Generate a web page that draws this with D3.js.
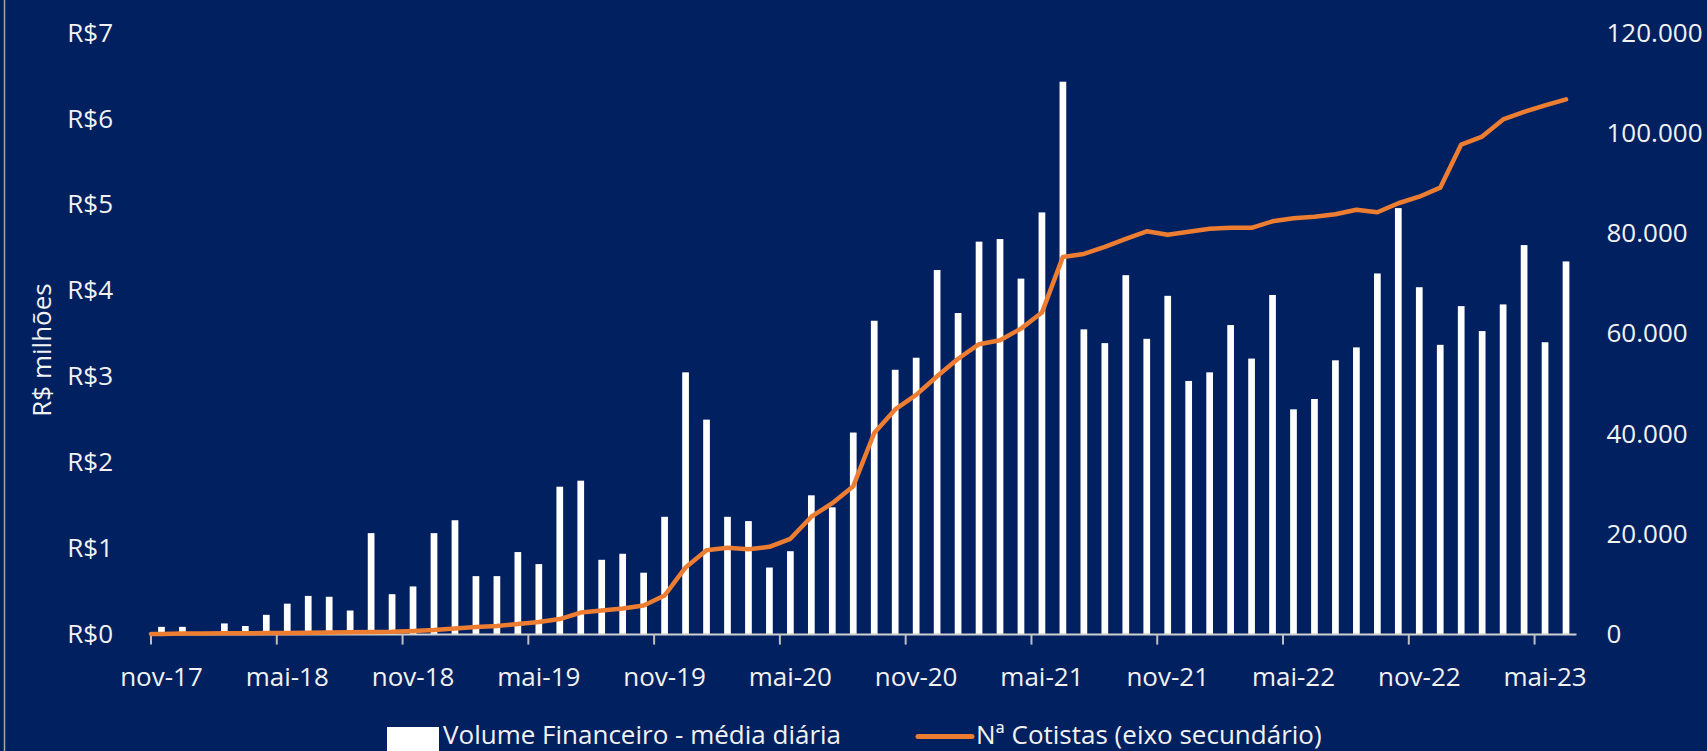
<!DOCTYPE html>
<html>
<head>
<meta charset="utf-8">
<script src="https://cdn.jsdelivr.net/npm/d3@7"></script>
<style>
  html, body { margin: 0; padding: 0; background: #002060; overflow: hidden; }
  text { font-family: "Open Sans", sans-serif; fill: #f2f2f2; }
</style>
</head>
<body>
<script>
// months shown on the category axis
var months = [
  "nov-17","dez-17","jan-18","fev-18","mar-18","abr-18","mai-18","jun-18","jul-18","ago-18","set-18","out-18",
  "nov-18","dez-18","jan-19","fev-19","mar-19","abr-19","mai-19","jun-19","jul-19","ago-19","set-19","out-19",
  "nov-19","dez-19","jan-20","fev-20","mar-20","abr-20","mai-20","jun-20","jul-20","ago-20","set-20","out-20",
  "nov-20","dez-20","jan-21","fev-21","mar-21","abr-21","mai-21","jun-21","jul-21","ago-21","set-21","out-21",
  "nov-21","dez-21","jan-22","fev-22","mar-22","abr-22","mai-22","jun-22","jul-22","ago-22","set-22","out-22",
  "nov-22","dez-22","jan-23","fev-23","mar-23","abr-23","mai-23","jun-23"
];

var tickLabels = ["nov-17","mai-18","nov-18","mai-19","nov-19","mai-20","nov-20","mai-21","nov-21","mai-22","nov-22","mai-23"];

// volume financeiro, media diaria (R$ milhoes)
var volume = [
  0.09,0.09,0.03,0.13,0.10,0.23,0.36,0.45,0.44,0.28,
  1.18,0.47,0.56,1.18,1.33,0.68,0.68,0.96,0.82,1.72,
  1.79,0.87,0.94,0.72,1.37,3.05,2.50,1.37,1.32,0.78,
  0.97,1.62,1.48,2.35,3.65,3.08,3.22,4.24,3.74,4.57,
  4.60,4.14,4.91,6.43,3.55,3.39,4.18,3.44,3.94,2.95,
  3.05,3.60,3.21,3.95,2.62,2.74,3.19,3.34,4.20,4.96,
  4.04,3.37,3.82,3.53,3.84,4.53,3.40,4.34
];

// numero de cotistas (eixo secundario)
var cotistas = [
  100,200,200,250,250,300,300,350,400,450,
  500,550,700,900,1200,1500,1700,2100,2500,3100,
  4400,4800,5200,5800,7800,13400,16800,17300,17000,17500,
  19100,23500,26200,29600,40200,44900,47800,51500,55000,57900,
  58700,61000,64200,75300,75900,77300,78900,80400,79700,80300,
  80900,81100,81100,82400,83000,83300,83800,84700,84200,86000,
  87300,89100,97700,99300,102700,104200,105500,106700
];

var leftTicks = [0, 1, 2, 3, 4, 5, 6, 7];
var rightTicks = [0, 20000, 40000, 60000, 80000, 100000, 120000];

var w = 1707;
var h = 751;
var x0 = 151, x1 = 1576.5;
var yBottom = 634.6, yTop = 32.7;

var ptBR = d3.formatLocale({ decimal: ",", thousands: ".", grouping: [3], currency: ["R$", ""] });
var fmtThousands = ptBR.format(",.0f");

var svg = d3.select("body").append("svg")
  .attr("width", w)
  .attr("height", h);

svg.append("rect")
  .attr("width", w).attr("height", h)
  .attr("fill", "#002060");

// thin light border on the left edge
svg.append("line")
  .attr("x1", 4.5).attr("x2", 4.5).attr("y1", 0).attr("y2", h)
  .attr("stroke", "#a6a6a6").attr("stroke-width", 1.5);

var xScale = d3.scaleBand()
  .domain(months)
  .range([x0, x1])
  .padding(0);

var yLeft = d3.scaleLinear().domain([0, 7]).range([yBottom, yTop]);
var yRight = d3.scaleLinear().domain([0, 120000]).range([yBottom, yTop]);

var barW = xScale.bandwidth() * 0.32;

// left axis
var leftAxis = svg.append("g")
  .attr("transform", "translate(" + x0 + ",0)")
  .call(d3.axisLeft(yLeft).tickValues(leftTicks).tickSize(0).tickPadding(38)
    .tickFormat(function(d) { return "R$" + d; }));
leftAxis.select(".domain").remove();

// right axis
var rightAxis = svg.append("g")
  .attr("transform", "translate(" + x1 + ",0)")
  .call(d3.axisRight(yRight).tickValues(rightTicks).tickSize(0).tickPadding(30)
    .tickFormat(function(d) { return fmtThousands(d); }));
rightAxis.select(".domain").remove();

svg.selectAll(".tick text")
  .attr("font-size", 26)
  .attr("font-family", "'Open Sans', sans-serif")
  .attr("fill", "#f2f2f2");

// axis title
svg.append("text")
  .attr("transform", "translate(51," + 350 + ") rotate(-90)")
  .attr("text-anchor", "middle")
  .attr("font-size", 26)
  .text("R$ milhões");

// bars
svg.append("g").selectAll("rect")
  .data(volume)
  .enter()
  .append("rect")
  .attr("x", function(d, i) { return xScale(months[i]) + xScale.bandwidth() / 2 - barW / 2; })
  .attr("y", function(d) { return yLeft(d); })
  .attr("width", barW)
  .attr("height", function(d) { return yLeft(0) - yLeft(d); })
  .attr("fill", "#ffffff");

// category axis line and tick marks
svg.append("line")
  .attr("x1", x0).attr("x2", x1)
  .attr("y1", yBottom).attr("y2", yBottom)
  .attr("stroke", "#d0d0d0").attr("stroke-width", 2);

svg.append("g").selectAll("line")
  .data(tickLabels)
  .enter()
  .append("line")
  .attr("x1", function(d) { return xScale(d); })
  .attr("x2", function(d) { return xScale(d); })
  .attr("y1", yBottom)
  .attr("y2", yBottom + 10)
  .attr("stroke", "#bfbfbf").attr("stroke-width", 2);

svg.append("g").selectAll("text")
  .data(tickLabels)
  .enter()
  .append("text")
  .attr("x", function(d) { return xScale(d) + xScale.bandwidth() / 2; })
  .attr("y", 686)
  .attr("text-anchor", "middle")
  .attr("font-size", 26)
  .text(function(d) { return d; });

// cotistas line (starts flat from the left edge of the first category)
var linePts = cotistas.map(function(d, i) {
  return [xScale(months[i]) + xScale.bandwidth() / 2, yRight(d)];
});
linePts.unshift([xScale(months[0]), yRight(cotistas[0])]);

svg.append("path")
  .datum(linePts)
  .attr("d", d3.line())
  .attr("fill", "none")
  .attr("stroke", "#ED7D31")
  .attr("stroke-width", 4.5)
  .attr("stroke-linejoin", "round")
  .attr("stroke-linecap", "round");

// legend
var legend = svg.append("g");
legend.append("rect")
  .attr("x", 387).attr("y", 727)
  .attr("width", 52).attr("height", 24)
  .attr("fill", "#ffffff");
legend.append("text")
  .attr("x", 443).attr("y", 744)
  .attr("font-size", 26)
  .text("Volume Financeiro - média diária");
legend.append("line")
  .attr("x1", 918).attr("x2", 972)
  .attr("y1", 736.5).attr("y2", 736.5)
  .attr("stroke", "#ED7D31").attr("stroke-width", 5)
  .attr("stroke-linecap", "round");
legend.append("text")
  .attr("x", 976).attr("y", 744)
  .attr("font-size", 26)
  .text("Nª Cotistas (eixo secundário)");
</script>
</body>
</html>
